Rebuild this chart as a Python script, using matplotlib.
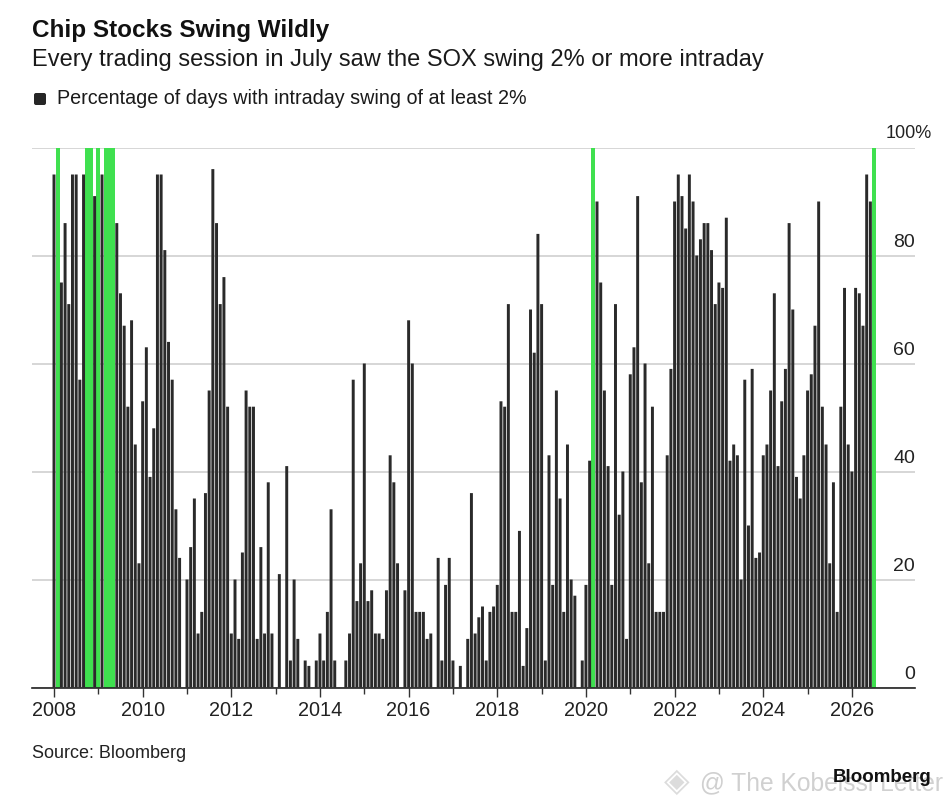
import numpy as np
import matplotlib
matplotlib.use("Agg")
import matplotlib.pyplot as plt
from matplotlib.patches import FancyBboxPatch

plt.rcParams['font.family'] = ['Liberation Sans', 'DejaVu Sans']

title = "Chip Stocks Swing Wildly"
subtitle = "Every trading session in July saw the SOX swing 2% or more intraday"
legend_label = "Percentage of days with intraday swing of at least 2%"
source = "Source: Bloomberg"

# monthly values, Jan 2008 to Jul 2026
v2008 = [95, 100, 75, 86, 71, 95, 95, 57, 95, 100, 100, 91]
v2009 = [100, 95, 100, 100, 100, 86, 73, 67, 52, 68, 45, 23]
v2010 = [53, 63, 39, 48, 95, 95, 81, 64, 57, 33, 24, 0]
v2011 = [20, 26, 35, 10, 14, 36, 55, 96, 86, 71, 76, 52]
v2012 = [10, 20, 9, 25, 55, 52, 52, 9, 26, 10, 38, 10]
v2013 = [0, 21, 0, 41, 5, 20, 9, 0, 5, 4, 0, 5]
v2014 = [10, 5, 14, 33, 5, 0, 0, 5, 10, 57, 16, 23]
v2015 = [60, 16, 18, 10, 10, 9, 18, 43, 38, 23, 0, 18]
v2016 = [68, 60, 14, 14, 14, 9, 10, 0, 24, 5, 19, 24]
v2017 = [5, 0, 4, 0, 9, 36, 10, 13, 15, 5, 14, 15]
v2018 = [19, 53, 52, 71, 14, 14, 29, 4, 11, 70, 62, 84]
v2019 = [71, 5, 43, 19, 55, 35, 14, 45, 20, 17, 0, 5]
v2020 = [19, 42, 100, 90, 75, 55, 41, 19, 71, 32, 40, 9]
v2021 = [58, 63, 91, 38, 60, 23, 52, 14, 14, 14, 43, 59]
v2022 = [90, 95, 91, 85, 95, 90, 80, 83, 86, 86, 81, 71]
v2023 = [75, 74, 87, 42, 45, 43, 20, 57, 30, 59, 24, 25]
v2024 = [43, 45, 55, 73, 41, 53, 59, 86, 70, 39, 35, 43]
v2025 = [55, 58, 67, 90, 52, 45, 23, 38, 14, 52, 74, 45]
v2026 = [40, 74, 73, 67, 95, 90, 100]

values = np.array(v2008 + v2009 + v2010 + v2011 + v2012 + v2013 + v2014 + v2015 + v2016
                  + v2017 + v2018 + v2019 + v2020 + v2021 + v2022 + v2023 + v2024 + v2025 + v2026)
years = list(range(2008, 2027))
y_ticks = [0, 20, 40, 60, 80, 100]

x = np.arange(len(values))
full = values == 100

W, H = 950, 807
fig = plt.figure(figsize=(W / 100, H / 100), dpi=100, facecolor='white')

# axes in pixels: left 32, right 915, y=0 at 687.5, y=100 at 147.5
ax = fig.add_axes([32 / W, 1 - 687.5 / H, (915 - 32) / W, 540 / H])
ax.set_xlim((32 - 54) / 3.694, (915 - 54) / 3.694)
ax.set_ylim(0, 100)

ax.bar(x[full], values[full], width=1.0, color='#3fe04f', zorder=2)
# snap off so the narrow bars keep their real width and the gaps come out grey
bars = ax.bar(x[~full], values[~full], width=0.8, color='#2a2a2a', zorder=3)
for b in bars:
    b.set_snap(False)

ax.set_yticks(y_ticks)
ax.set_yticklabels([])
ax.grid(axis='y', color='#cfcfcf', linewidth=1.2, zorder=1)
ax.tick_params(axis='y', length=0)

for s in ['top', 'left', 'right']:
    ax.spines[s].set_visible(False)
ax.spines['bottom'].set_color('#222222')
ax.spines['bottom'].set_linewidth(1.2)

# ticks: labelled even years, shorter ones for odd years
major = [(y - 2008) * 12 for y in years if y % 2 == 0]
minor = [(y - 2008) * 12 for y in years if y % 2 == 1]
ax.set_xticks(major)
ax.set_xticklabels([str(y) for y in years if y % 2 == 0], fontsize=14.3, color='#222222')
ax.set_xticks(minor, minor=True)
ax.tick_params(axis='x', which='major', length=6.5, width=1, color='#333333', pad=3)
ax.tick_params(axis='x', which='minor', length=4, width=1, color='#333333')

# y labels sit above the gridlines at the right end
for t in y_ticks:
    if t == 100:
        ax.annotate("100%", xy=(1, t), xycoords=('axes fraction', 'data'), xytext=(-21, 9.8),
                    textcoords='offset points', ha='left', va='center', fontsize=13, color='#222222')
    else:
        ax.annotate(str(t), xy=(1, t), xycoords=('axes fraction', 'data'), xytext=(0, 9.3),
                    textcoords='offset points', ha='right', va='center', fontsize=14, color='#222222')

fig.text(32 / W, 1 - 31 / H, title, fontsize=17.5, fontweight='bold', va='center', color='#111111')
fig.text(32 / W, 1 - 60 / H, subtitle, fontsize=17, va='center', color='#1a1a1a')
fig.text(57 / W, 1 - 99 / H, legend_label, fontsize=14.2, va='center', color='#1a1a1a')
fig.patches.append(FancyBboxPatch((34, H - 105), 12, 12, boxstyle='round,pad=0,rounding_size=2',
                                  transform=None, facecolor='#262626', edgecolor='none'))
fig.text(32 / W, 1 - 754 / H, source, fontsize=13, va='center', color='#222222')

# watermark and logo
fig.text(664 / W, 1 - 782 / H, "\u25c8", fontsize=24, va='center', color='#dcdcdc')
fig.text(700 / W, 1 - 783 / H, "@ The Kobeissi Letter", fontsize=17.7, va='center', color='#d0d0d0')
fig.text(833 / W, 1 - 778 / H, "Bloomberg", fontsize=13.5, fontweight='bold', va='center', color='#111111')

fig.savefig("out.png", dpi=100)
